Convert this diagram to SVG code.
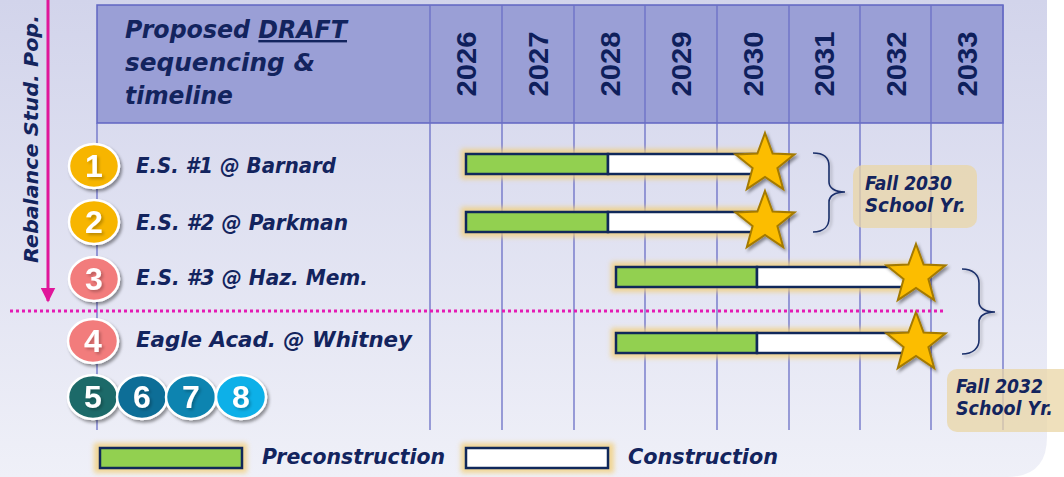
<svg xmlns="http://www.w3.org/2000/svg" width="1064" height="477" viewBox="0 0 1064 477">
  <style>
    .lbl { font-family: "DejaVu Sans", "Liberation Sans", sans-serif; font-weight: bold; font-style: italic; fill: #13245e; }
    .yr { font-family: "Liberation Sans", Arial, sans-serif; font-weight: bold; font-size: 28px; fill: #0f1f5c; }
    .num { font-family: "Liberation Sans", Arial, sans-serif; font-weight: bold; font-size: 32px; fill: #ffffff; }
    .grid { stroke: #6a6fc6; stroke-width: 1.3; fill: none; }
    .bar { stroke: #10285a; stroke-width: 2.5; }
    .pre { fill: #92d050; }
    .con { fill: #ffffff; }
    .halo { fill: #f2cf7a; opacity: 0.8; }
    .badge { stroke: #ffffff; stroke-width: 2.5; }
    .brace { fill: none; stroke: #1a2f6a; stroke-width: 1.6; }
    .note { fill: #e9d6a6; opacity: 0.75; }
  </style>
  <defs>
    <linearGradient id="panelFill" x1="0" y1="0" x2="0" y2="1">
      <stop offset="0" stop-color="#d2d4eb"/>
      <stop offset="1" stop-color="#eff0f8"/>
    </linearGradient>
    <filter id="glow" x="-10%" y="-50%" width="120%" height="200%">
      <feGaussianBlur stdDeviation="2.5"/>
    </filter>
    <filter id="shadow" x="-30%" y="-30%" width="170%" height="170%">
      <feDropShadow dx="2" dy="2.5" stdDeviation="1.6" flood-color="#000" flood-opacity="0.4"/>
    </filter>
    <filter id="softShadow" x="-30%" y="-30%" width="170%" height="170%">
      <feDropShadow dx="2" dy="2" stdDeviation="1.5" flood-color="#000" flood-opacity="0.25"/>
    </filter>
    <path id="star" d="M0,-31 L7.6,-10.5 L29.5,-9.6 L12.4,4 L18.2,25.1 L0,13 L-18.2,25.1 L-12.4,4 L-29.5,-9.6 L-7.6,-10.5 Z"
          fill="#fcbd00" stroke="#a47a00" stroke-width="2" stroke-linejoin="miter"/>
    <marker id="arrowHead" viewBox="0 0 10 10" refX="9" refY="5" markerWidth="5" markerHeight="5" orient="auto" markerUnits="strokeWidth">
      <path d="M0,0 L10,5 L0,10 Z" fill="#e0169a"/>
    </marker>
  </defs>

  <!-- page and panel -->
  <rect x="0" y="0" width="1064" height="477" fill="#ffffff"/>
  <path d="M0,0 H1047 V437 Q1047,477 1007,477 H0 Z" fill="url(#panelFill)"/>

  <!-- header block -->
  <g id="header">
    <rect x="97" y="5" width="906" height="118" fill="#9a9fd6" stroke="#6065c2" stroke-width="1.5"/>
    <text class="lbl" font-size="24" x="125" y="38" textLength="222" lengthAdjust="spacingAndGlyphs">Proposed <tspan text-decoration="underline">DRAFT</tspan></text>
    <text class="lbl" font-size="24" x="125" y="71" textLength="190" lengthAdjust="spacingAndGlyphs">sequencing &amp;</text>
    <text class="lbl" font-size="24" x="125" y="104" textLength="108" lengthAdjust="spacingAndGlyphs">timeline</text>
    <g text-anchor="middle">
      <text class="yr" transform="translate(476,64) rotate(-90)" textLength="65" lengthAdjust="spacingAndGlyphs">2026</text>
      <text class="yr" transform="translate(548,64) rotate(-90)" textLength="65" lengthAdjust="spacingAndGlyphs">2027</text>
      <text class="yr" transform="translate(620,64) rotate(-90)" textLength="65" lengthAdjust="spacingAndGlyphs">2028</text>
      <text class="yr" transform="translate(691,64) rotate(-90)" textLength="65" lengthAdjust="spacingAndGlyphs">2029</text>
      <text class="yr" transform="translate(763,64) rotate(-90)" textLength="65" lengthAdjust="spacingAndGlyphs">2030</text>
      <text class="yr" transform="translate(834,64) rotate(-90)" textLength="65" lengthAdjust="spacingAndGlyphs">2031</text>
      <text class="yr" transform="translate(906,64) rotate(-90)" textLength="65" lengthAdjust="spacingAndGlyphs">2032</text>
      <text class="yr" transform="translate(977,64) rotate(-90)" textLength="65" lengthAdjust="spacingAndGlyphs">2033</text>
    </g>
  </g>

  <!-- year grid -->
  <g id="grid" class="grid">
    <path d="M430,5 V430 M502,5 V430 M574,5 V430 M645,5 V430 M717,5 V430 M789,5 V430 M860,5 V430 M931,5 V430 M1003,5 V430 M97,123 V430"/>
  </g>

  <!-- rebalance indicator -->
  <g id="rebalance">
    <text class="lbl" font-size="20" transform="translate(38,139) rotate(-90)" text-anchor="middle" textLength="248" lengthAdjust="spacingAndGlyphs">Rebalance Stud. Pop.</text>
  </g>

  <!-- project rows -->
  <g id="row1">
    <g filter="url(#shadow)"><ellipse class="badge" cx="94" cy="166" rx="25" ry="22" fill="#f7b500"/></g>
    <text class="num" x="94" y="177" text-anchor="middle" filter="url(#softShadow)">1</text>
    <text class="lbl" font-size="22" x="136" y="173" textLength="200" lengthAdjust="spacingAndGlyphs">E.S. #1 @ Barnard</text>
    <rect class="halo" x="461" y="149" width="300" height="30" filter="url(#glow)"/>
    <rect class="bar pre" x="466" y="154" width="142" height="20"/>
    <rect class="bar con" x="608" y="154" width="157" height="20"/>
    <g filter="url(#shadow)"><use href="#star" x="765" y="164"/></g>
  </g>

  <g id="row2">
    <g filter="url(#shadow)"><ellipse class="badge" cx="94" cy="222" rx="25" ry="22" fill="#f7b500"/></g>
    <text class="num" x="94" y="233" text-anchor="middle" filter="url(#softShadow)">2</text>
    <text class="lbl" font-size="22" x="136" y="230" textLength="212" lengthAdjust="spacingAndGlyphs">E.S. #2 @ Parkman</text>
    <rect class="halo" x="461" y="207" width="300" height="30" filter="url(#glow)"/>
    <rect class="bar pre" x="466" y="212" width="142" height="20"/>
    <rect class="bar con" x="608" y="212" width="157" height="20"/>
    <g filter="url(#shadow)"><use href="#star" x="765" y="222"/></g>
  </g>

  <g id="row3">
    <g filter="url(#shadow)"><ellipse class="badge" cx="94" cy="279" rx="25" ry="22" fill="#f27c7c"/></g>
    <text class="num" x="94" y="290" text-anchor="middle" filter="url(#softShadow)">3</text>
    <text class="lbl" font-size="22" x="136" y="285" textLength="232" lengthAdjust="spacingAndGlyphs">E.S. #3 @ Haz. Mem.</text>
    <rect class="halo" x="611" y="262" width="300" height="30" filter="url(#glow)"/>
    <rect class="bar pre" x="616" y="267" width="141" height="20"/>
    <rect class="bar con" x="757" y="267" width="159" height="20"/>
    <g filter="url(#shadow)"><use href="#star" x="916" y="275"/></g>
  </g>

  <g id="row4">
    <g filter="url(#shadow)"><ellipse class="badge" cx="93" cy="341" rx="25" ry="22" fill="#f27c7c"/></g>
    <text class="num" x="93" y="352" text-anchor="middle" filter="url(#softShadow)">4</text>
    <text class="lbl" font-size="22" x="136" y="347" textLength="276" lengthAdjust="spacingAndGlyphs">Eagle Acad. @ Whitney</text>
    <rect class="halo" x="611" y="328" width="300" height="30" filter="url(#glow)"/>
    <rect class="bar pre" x="616" y="333" width="141" height="20"/>
    <rect class="bar con" x="757" y="333" width="159" height="20"/>
    <g filter="url(#shadow)"><use href="#star" x="916" y="343"/></g>
  </g>

  <g id="row5to8">
    <g filter="url(#shadow)">
      <ellipse class="badge" cx="93" cy="397" rx="25" ry="22" fill="#1e6b69"/>
      <ellipse class="badge" cx="142" cy="397" rx="25" ry="22" fill="#0d6e97"/>
      <ellipse class="badge" cx="191" cy="397" rx="25" ry="22" fill="#0a84b0"/>
      <ellipse class="badge" cx="241" cy="397" rx="25" ry="22" fill="#0cb0e8"/>
    </g>
    <g text-anchor="middle" filter="url(#softShadow)">
      <text class="num" x="93" y="408">5</text>
      <text class="num" x="142" y="408">6</text>
      <text class="num" x="191" y="408">7</text>
      <text class="num" x="241" y="408">8</text>
    </g>
  </g>

  <!-- completion notes -->
  <g id="note2030">
    <rect class="note" x="853" y="165" width="124" height="63" rx="10"/>
    <text class="lbl" font-size="20" x="865" y="190" textLength="87" lengthAdjust="spacingAndGlyphs">Fall 2030</text>
    <text class="lbl" font-size="20" x="865" y="212" textLength="101" lengthAdjust="spacingAndGlyphs">School Yr.</text>
  </g>
  <g id="note2032">
    <rect class="note" x="947" y="369" width="130" height="63" rx="10"/>
    <text class="lbl" font-size="20" x="956" y="393" textLength="87" lengthAdjust="spacingAndGlyphs">Fall 2032</text>
    <text class="lbl" font-size="20" x="956" y="415" textLength="97" lengthAdjust="spacingAndGlyphs">School Yr.</text>
  </g>

  <!-- connectors: braces, rebalance arrow and divider -->
  <g id="connectors">
    <g filter="url(#softShadow)">
      <path class="brace" d="M813,153 C824,153 829,158 829,166 L829,182 C829,188 835,192 845,192 C835,192 829,196 829,202 L829,218 C829,226 824,232 813,232"/>
      <path class="brace" d="M962,269 C973,269 979,275 979,283 L979,302 C979,308 985,312 995,312 C985,312 979,316 979,322 L979,340 C979,348 973,354 962,354"/>
    </g>
    <line x1="48" y1="0" x2="48" y2="301" stroke="#e0169a" stroke-width="3" marker-end="url(#arrowHead)"/>
    <line x1="10" y1="311" x2="946" y2="311" stroke="#e41bb4" stroke-width="3" stroke-dasharray="3 3"/>
  </g>

  <!-- legend -->
  <g id="legend">
    <rect class="halo" x="94" y="443" width="153" height="30" filter="url(#glow)"/>
    <rect class="bar pre" x="100" y="448" width="142" height="20"/>
    <text class="lbl" font-size="22" x="262" y="464" textLength="183" lengthAdjust="spacingAndGlyphs">Preconstruction</text>
    <rect class="halo" x="461" y="443" width="153" height="30" filter="url(#glow)"/>
    <rect class="bar con" x="466" y="448" width="142" height="20"/>
    <text class="lbl" font-size="22" x="628" y="464" textLength="150" lengthAdjust="spacingAndGlyphs">Construction</text>
  </g>
</svg>
